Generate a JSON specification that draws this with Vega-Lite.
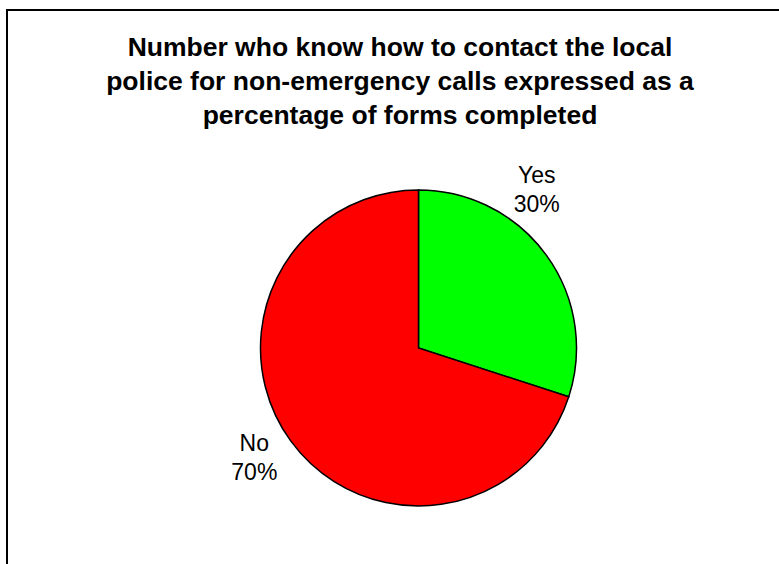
{
  "$schema": "https://vega.github.io/schema/vega-lite/v6.json",
  "autosize": "none",
  "padding": {"left": 7, "top": 10, "right": 0, "bottom": 0},
  "width": 823,
  "height": 676,
  "background": "white",
  "view": {"stroke": "black", "strokeWidth": 2, "fill": "white"},
  "config": {"view": {"stroke": "black", "strokeWidth": 2}},
  "title": {
    "text": ["Number who know how to contact the local", "police for non-emergency calls expressed as a", "percentage of forms completed"],
    "font": "Liberation Sans",
    "fontSize": 26.5,
    "fontWeight": "bold",
    "color": "black",
    "lineHeight": 34,
    "anchor": "middle",
    "frame": "group",
    "orient": "top",
    "offset": 0,
    "baseline": "alphabetic",
    "dx": -18.5,
    "dy": 140
  },
  "data": {"values": [
    {"category": "Yes", "value": 30},
    {"category": "No", "value": 70}
  ]},
  "transform": [
    {"stack": "value", "groupby": [], "sort": [{"field": "value", "order": "ascending"}], "as": ["v0", "v1"]},
    {"calculate": "(datum.v0 + datum.v1) / 2", "as": "mid"},
    {"calculate": "[datum.category, datum.value + '%']", "as": "label"}
  ],
  "layer": [
    {
      "mark": {"type": "arc", "radius": 158, "stroke": "black", "strokeWidth": 1.5},
      "encoding": {
        "theta": {"field": "v0", "type": "quantitative", "stack": null, "scale": {"domain": [0, 100]}},
        "theta2": {"field": "v1"},
        "color": {"field": "category", "type": "nominal", "scale": {"domain": ["Yes", "No"], "range": ["#00FF00", "#FF0000"]}, "legend": null}
      }
    },
    {
      "transform": [{"filter": "datum.category == 'Yes'"}],
      "mark": {"type": "text", "radius": 198, "dx": -42, "dy": -56, "font": "Liberation Sans", "fontSize": 23, "lineHeight": 29, "color": "black", "align": "center", "baseline": "middle"},
      "encoding": {
        "theta": {"field": "mid", "type": "quantitative", "stack": null},
        "text": {"field": "label"}
      }
    },
    {
      "transform": [{"filter": "datum.category == 'No'"}],
      "mark": {"type": "text", "radius": 198, "dx": -4, "dy": -20, "font": "Liberation Sans", "fontSize": 23, "lineHeight": 29, "color": "black", "align": "center", "baseline": "middle"},
      "encoding": {
        "theta": {"field": "mid", "type": "quantitative", "stack": null},
        "text": {"field": "label"}
      }
    }
  ]
}
